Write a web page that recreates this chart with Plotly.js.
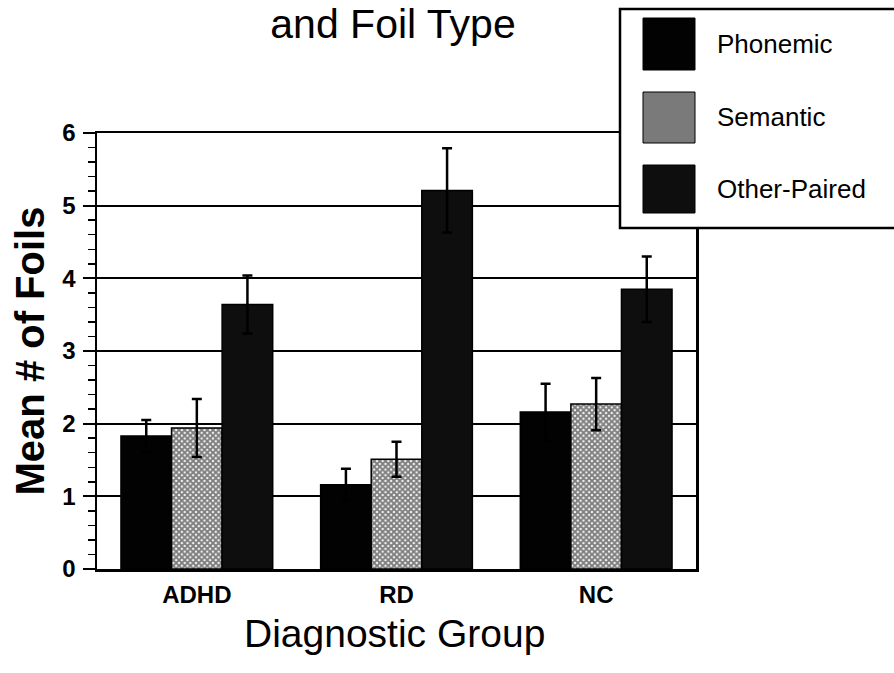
<!DOCTYPE html>
<html>
<head>
<meta charset="utf-8">
<script src="https://cdn.plot.ly/plotly-3.0.1.min.js"></script>
<style>
  html, body { margin: 0; padding: 0; background: #ffffff; }
  #chart { width: 894px; height: 673px; }
</style>
</head>
<body>
<div id="chart"></div>
<script>
// ---- data ----
const groups = ["ADHD", "RD", "NC"];
const seriesNames = ["Phonemic", "Semantic", "Other-Paired"];
const phonemic = [1.83, 1.16, 2.16];
const phonemicErr = [0.22, 0.22, 0.39];
const semantic = [1.94, 1.51, 2.27];
const semanticErr = [0.40, 0.24, 0.36];
const otherPaired = [3.64, 5.21, 3.85];
const otherPairedErr = [0.40, 0.58, 0.45];
const yTicks = [0, 1, 2, 3, 4, 5, 6];
const titleText = "and Foil Type";
const xTitle = "Diagnostic Group";
const yTitle = "Mean # of Foils";

const FONT = "Liberation Sans, Arial, Helvetica, sans-serif";
const fills = ["#020202", "#7a7a7a", "#0e0e0e"];

function errBar(arr) {
  return { type: "data", array: arr, visible: true, color: "#000", thickness: 2.5, width: 5 };
}

const traces = [
  {
    type: "bar", name: seriesNames[0], x: groups, y: phonemic,
    error_y: errBar(phonemicErr),
    marker: { color: fills[0], line: { color: "#000", width: 1.5 } }
  },
  {
    type: "bar", name: seriesNames[1], x: groups, y: semantic,
    error_y: errBar(semanticErr),
    marker: {
      color: "#ffffff",
      line: { color: "#000", width: 1.5 },
      pattern: { shape: "x", fgcolor: "#000", bgcolor: "#ffffff", size: 4, solidity: 0.75, fillmode: "overlay" }
    }
  },
  {
    type: "bar", name: seriesNames[2], x: groups, y: otherPaired,
    error_y: errBar(otherPairedErr),
    marker: { color: fills[2], line: { color: "#000", width: 1.5 } }
  }
];

// plot domain pixel geometry (for legend / title placement in paper coords)
const L = 97, R = 696, T = 133, B = 569;
const W = R - L, H = B - T;
const px = v => (v - L) / W;
const py = v => (B - v) / H;

const shapes = [
  { type: "rect", xref: "paper", yref: "paper", x0: px(620), x1: px(905), y0: py(228), y1: py(9),
    fillcolor: "#ffffff", line: { color: "#000", width: 2.5 }, layer: "above" }
];
const swatchY = [[18, 70], [92, 143], [165, 213]];
const annotations = [];
seriesNames.forEach((name, i) => {
  shapes.push({ type: "rect", xref: "paper", yref: "paper", x0: px(643), x1: px(695),
    y0: py(swatchY[i][1]), y1: py(swatchY[i][0]),
    fillcolor: fills[i], line: { color: "#000", width: 1 }, layer: "above" });
  annotations.push({ xref: "paper", yref: "paper", x: px(715), y: py((swatchY[i][0] + swatchY[i][1]) / 2),
    xanchor: "left", yanchor: "middle", showarrow: false, text: name,
    font: { family: FONT, size: 26, color: "#000" } });
});
annotations.push({ xref: "paper", yref: "paper", x: px(394), y: py(633),
  xanchor: "center", yanchor: "middle", showarrow: false, text: xTitle,
  font: { family: FONT, size: 39, color: "#000" } });

const layout = {
  width: 894, height: 673,
  margin: { l: L, r: 894 - R, t: T, b: 673 - B, pad: 0 },
  paper_bgcolor: "#ffffff", plot_bgcolor: "#ffffff",
  showlegend: false,
  barmode: "group", bargap: 0.24, bargroupgap: 0,
  title: {
    text: titleText, font: { family: FONT, size: 41, color: "#000" },
    x: 393 / 894, xanchor: "center", xref: "container",
    y: 1 - 24 / 673, yanchor: "middle", yref: "container"
  },
  xaxis: {
    type: "category",
    showline: true, linecolor: "#000", linewidth: 2.5, mirror: true,
    ticks: "", showgrid: false,
    tickfont: { family: FONT, size: 24, color: "#000", weight: "bold" },
    ticklabelstandoff: 3
  },
  yaxis: {
    range: [0, 6], tickvals: yTicks, ticktext: yTicks.map(String),
    showline: true, linecolor: "#000", linewidth: 2.5, mirror: true,
    ticks: "outside", ticklen: 12, tickwidth: 2, tickcolor: "#000",
    minor: { dtick: 0.2, ticks: "outside", ticklen: 7, tickwidth: 1.5, tickcolor: "#000", showgrid: false },
    showgrid: true, gridcolor: "#000", gridwidth: 2,
    zeroline: false,
    tickfont: { family: FONT, size: 24, color: "#000", weight: "bold" },
    ticklabelstandoff: 2,
    title: { text: yTitle, font: { family: FONT, size: 40, color: "#000", weight: "bold" }, standoff: 6 }
  },
  shapes: shapes,
  annotations: annotations
};

Plotly.newPlot("chart", traces, layout, { staticPlot: true, displayModeBar: false });
</script>
</body>
</html>
